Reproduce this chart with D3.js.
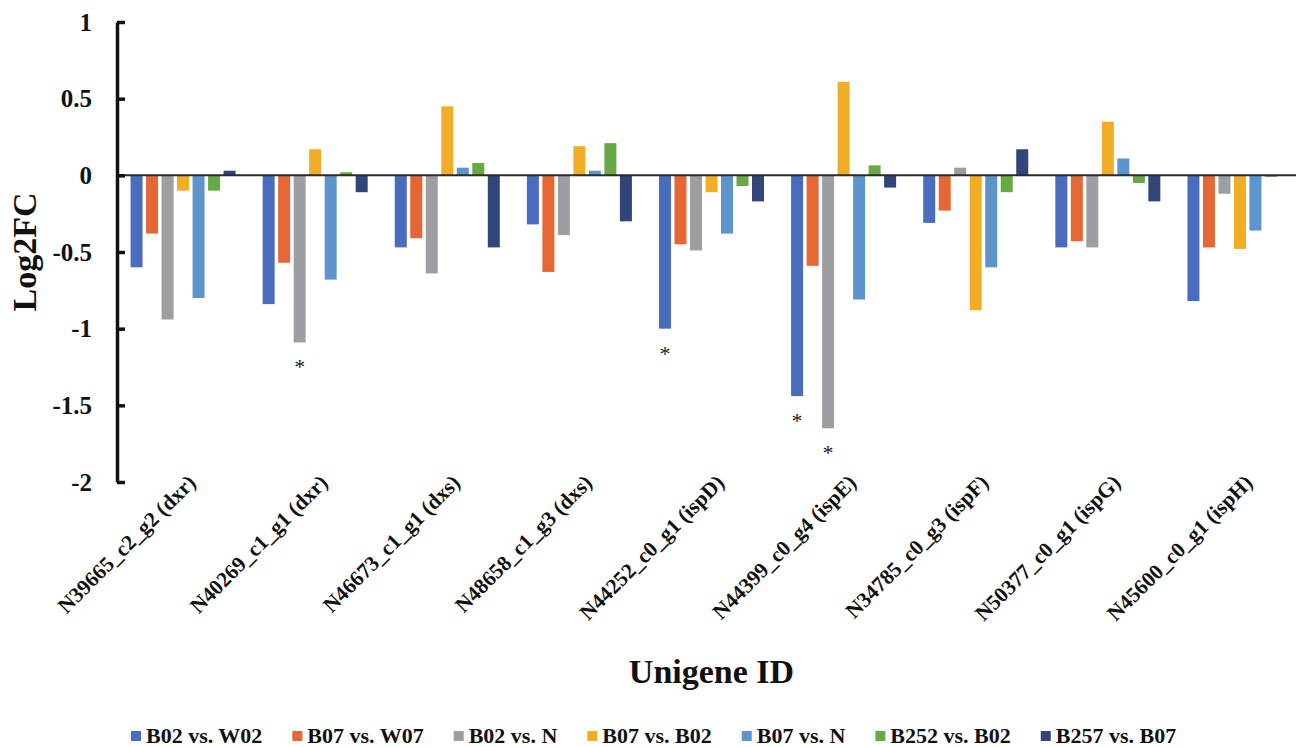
<!DOCTYPE html>
<html>
<head>
<meta charset="utf-8">
<script src="https://cdn.jsdelivr.net/npm/d3@7"></script>
<style>
  body { margin: 0; background: #fff; }
  svg { display: block; font-family: "Liberation Serif", "Times New Roman", serif; font-weight: bold; }
</style>
</head>
<body>
<div id="chart"></div>
<script>
var genes = ["N39665_c2_g2 (dxr)", "N40269_c1_g1 (dxr)", "N46673_c1_g1 (dxs)", "N48658_c1_g3 (dxs)",
  "N44252_c0_g1 (ispD)", "N44399_c0_g4 (ispE)", "N34785_c0_g3 (ispF)", "N50377_c0_g1 (ispG)", "N45600_c0_g1 (ispH)"];
var seriesNames = ["B02 vs. W02", "B07 vs. W07", "B02 vs. N", "B07 vs. B02", "B07 vs. N", "B252 vs. B02", "B257 vs. B07"];
var colors = ["#4a6cbf", "#e46735", "#9d9ea2", "#f1ad23", "#5e94cc", "#67aa45", "#324579"];

// one array per series, values in gene order
var b02w02 = [-0.60, -0.84, -0.47, -0.32, -1.00, -1.44, -0.31, -0.47, -0.82];
var b07w07 = [-0.38, -0.57, -0.41, -0.63, -0.45, -0.59, -0.23, -0.43, -0.47];
var b02n   = [-0.94, -1.09, -0.64, -0.39, -0.49, -1.65,  0.05, -0.47, -0.12];
var b07b02 = [-0.10,  0.17,  0.45,  0.19, -0.11,  0.61, -0.88,  0.35, -0.48];
var b07n   = [-0.80, -0.68,  0.05,  0.03, -0.38, -0.81, -0.60,  0.11, -0.36];
var b252b02 = [-0.10, 0.02,  0.08,  0.21, -0.07,  0.065, -0.11, -0.05, -0.01];
var b257b07 = [ 0.03, -0.11, -0.47, -0.30, -0.17, -0.08,  0.17, -0.17,  0.00];
var values = [b02w02, b07w07, b02n, b07b02, b07n, b252b02, b257b07];

var yTicks = [-2, -1.5, -1, -0.5, 0, 0.5, 1];
// significant bars: [gene index, series index]
var stars = [[1, 2], [4, 0], [5, 0], [5, 2]];

var W = 1296, H = 747;
var plot = {left: 117, right: 1306, top: 22, bottom: 482};

var svg = d3.select("#chart").append("svg")
    .attr("width", W)
    .attr("height", H);

var x0 = d3.scaleBand()
    .domain(d3.range(genes.length))
    .range([plot.left, plot.right])
    .paddingInner(0.205)
    .paddingOuter(0.1025);

var x1 = d3.scaleBand()
    .domain(d3.range(seriesNames.length))
    .range([0, x0.bandwidth()])
    .paddingInner(0.226)
    .paddingOuter(0);

var y = d3.scaleLinear()
    .domain([-2, 1])
    .range([plot.bottom, plot.top]);

// bars
var groups = svg.append("g").selectAll("g")
    .data(genes)
    .join("g")
    .attr("transform", function(d, i) { return "translate(" + x0(i) + ",0)"; });

groups.selectAll("rect")
    .data(function(d, i) { return values.map(function(s, k) { return {k: k, v: s[i]}; }); })
    .join("rect")
    .attr("x", function(d) { return x1(d.k); })
    .attr("width", x1.bandwidth())
    .attr("y", function(d) { return y(Math.max(0, d.v)); })
    .attr("height", function(d) { return Math.abs(y(d.v) - y(0)); })
    .attr("fill", function(d) { return colors[d.k]; });

// zero line
svg.append("line")
    .attr("x1", plot.left).attr("x2", W)
    .attr("y1", y(0)).attr("y2", y(0))
    .attr("stroke", "#2b2b2b")
    .attr("stroke-width", 2);

// y axis
var yAxis = svg.append("g")
    .attr("transform", "translate(" + plot.left + ",0)")
    .call(d3.axisLeft(y)
        .tickValues(yTicks)
        .tickSizeInner(-8)
        .tickSizeOuter(0)
        .tickPadding(25)
        .tickFormat(function(d) { return String(d); }));
yAxis.select(".domain").attr("stroke", "#111").attr("stroke-width", 3.5);
yAxis.selectAll(".tick line").attr("stroke", "#111").attr("stroke-width", 3.5);
yAxis.selectAll("text")
    .attr("font-family", "Liberation Serif")
    .attr("font-weight", "bold")
    .attr("font-size", 25)
    .attr("fill", "#111");

// x labels, rotated
svg.append("g").selectAll("text")
    .data(genes)
    .join("text")
    .attr("transform", function(d, i) {
        return "translate(" + (x0(i) + x0.bandwidth() / 2 + 14) + "," + 484 + ") rotate(-45)";
    })
    .attr("text-anchor", "end")
    .attr("font-size", 21.5)
    .attr("fill", "#111")
    .text(function(d) { return d; });

// significance stars
svg.append("g").selectAll("text")
    .data(stars)
    .join("text")
    .attr("x", function(d) { return x0(d[0]) + x1(d[1]) + x1.bandwidth() / 2; })
    .attr("y", function(d) { return y(values[d[1]][d[0]]) + 32; })
    .attr("text-anchor", "middle")
    .attr("font-size", 22)
    .attr("font-weight", "normal")
    .attr("fill", "#222")
    .text("*");

// axis titles
svg.append("text")
    .attr("transform", "translate(36," + ((plot.top + plot.bottom) / 2) + ") rotate(-90)")
    .attr("text-anchor", "middle")
    .attr("font-size", 34)
    .attr("fill", "#111")
    .text("Log2FC");

svg.append("text")
    .attr("x", (plot.left + plot.right) / 2)
    .attr("y", 683)
    .attr("text-anchor", "middle")
    .attr("font-size", 34)
    .attr("fill", "#111")
    .text("Unigene ID");

// legend
var legend = svg.append("g").attr("transform", "translate(0,743)");
var items = legend.selectAll("g")
    .data(seriesNames)
    .join("g");
items.append("rect")
    .attr("width", 10).attr("height", 10)
    .attr("y", -12)
    .attr("fill", function(d, i) { return colors[i]; });
items.append("text")
    .attr("x", 15)
    .attr("font-size", 22)
    .attr("fill", "#111")
    .text(function(d) { return d; });

var xpos = 131;
items.each(function() {
    d3.select(this).attr("transform", "translate(" + xpos + ",0)");
    xpos += 15 + d3.select(this).select("text").node().getComputedTextLength() + 30;
});
</script>
</body>
</html>
